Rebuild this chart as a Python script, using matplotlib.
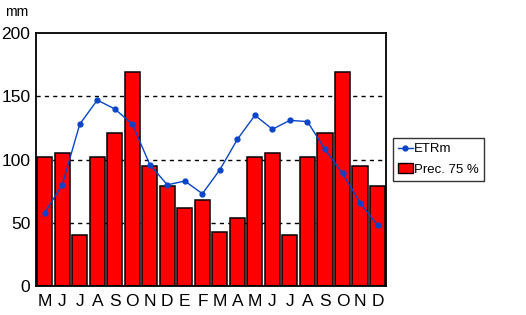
import matplotlib.pyplot as plt
from matplotlib.patches import Patch
from matplotlib.lines import Line2D

plt.rcParams['font.family'] = ['Liberation Sans', 'DejaVu Sans']

# datos
meses = ['M', 'J', 'J', 'A', 'S', 'O', 'N', 'D', 'E', 'F',
         'M', 'A', 'M', 'J', 'J', 'A', 'S', 'O', 'N', 'D']
prec75 = [102, 105, 40, 102, 121, 169, 95, 79, 62, 68,
          43, 54, 102, 105, 40, 102, 121, 169, 95, 79]
etrm = [58, 80, 128, 147, 140, 128, 96, 80, 83, 73,
        92, 116, 135, 124, 131, 130, 108, 89, 66, 48]

fig = plt.figure(figsize=(5.26, 3.15), dpi=100)
ax = fig.add_axes([0.0684, 0.092, 0.666, 0.803])

x = list(range(len(meses)))
ax.bar(x, prec75, width=0.86, color='#ff0000', edgecolor='black',
       linewidth=1.1, zorder=2)
ax.plot(x, etrm, color='#0a45c8', linewidth=1, marker='o', markersize=3.5,
        zorder=3)

ax.set_xlim(-0.5, len(meses) - 0.5)
ax.set_ylim(0, 200)
ax.set_yticks([0, 50, 100, 150, 200])
ax.set_xticks(x)
ax.set_xticklabels(meses)
ax.tick_params(axis='y', length=0, labelsize=12.5, pad=4)
ax.tick_params(axis='x', length=0, labelsize=12.5, pad=6)
for s in ax.spines.values():
    s.set_linewidth(1.3)

# lineas de referencia discontinuas
for v in [50, 100, 150]:
    ax.axhline(v, color='black', linestyle=(0, (3, 3)), linewidth=1, zorder=1)

fig.text(0.032, 0.963, 'mm', fontsize=10, ha='center', va='center')

# leyenda
handles = [Line2D([], [], color='#0a45c8', linewidth=1, marker='o', markersize=3.5),
           Patch(facecolor='#ff0000', edgecolor='black', linewidth=1)]
leg = fig.legend(handles, ['ETRm', 'Prec. 75 %'], loc='upper left',
                 bbox_to_anchor=(0.747, 0.562), fontsize=9.5, frameon=True,
                 fancybox=False, edgecolor='black', handlelength=1.1,
                 handletextpad=0.1, borderpad=0.4, labelspacing=0.6,
                 borderaxespad=0)
leg.get_frame().set_linewidth(1)

fig.savefig('out.png', dpi=100)
